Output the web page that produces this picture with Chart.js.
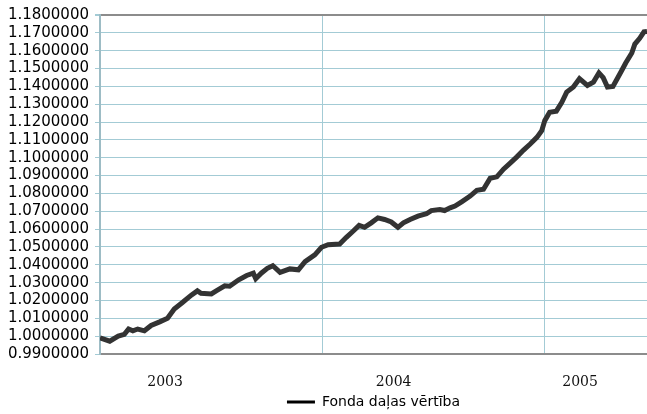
<!DOCTYPE html>
<html>
<head>
<meta charset="utf-8">
<script src="https://cdn.jsdelivr.net/npm/chart.js@4/dist/chart.umd.min.js"></script>
<style>
  html, body { margin: 0; padding: 0; background: #ffffff; }
  #chart { display: block; }
</style>
</head>
<body>
<canvas id="chart" width="647" height="414"></canvas>
<script>
// Fund unit value
const dates = [
    '2003-01-01', '2003-01-17', '2003-01-31', '2003-02-10', '2003-02-17', '2003-02-24',
    '2003-03-04', '2003-03-15', '2003-03-26', '2003-04-09', '2003-04-22', '2003-05-03',
    '2003-05-17', '2003-05-31', '2003-06-10', '2003-06-16', '2003-07-03', '2003-07-11',
    '2003-07-25', '2003-08-02', '2003-08-17', '2003-08-30', '2003-09-10', '2003-09-14',
    '2003-09-23', '2003-10-03', '2003-10-12', '2003-10-24', '2003-11-09', '2003-11-23',
    '2003-12-04', '2003-12-20', '2003-12-31',
    '2004-01-11', '2004-01-30', '2004-02-10', '2004-02-21', '2004-03-02', '2004-03-11',
    '2004-03-22', '2004-04-02', '2004-04-13', '2004-04-24', '2004-05-05', '2004-05-14',
    '2004-05-25', '2004-06-07', '2004-06-21', '2004-06-29', '2004-07-13', '2004-07-21',
    '2004-07-30', '2004-08-07', '2004-08-18', '2004-09-01', '2004-09-12', '2004-09-23',
    '2004-10-04', '2004-10-15', '2004-10-26', '2004-11-06', '2004-11-17', '2004-11-28',
    '2004-12-09', '2004-12-20', '2004-12-28',
    '2005-01-02', '2005-01-10', '2005-01-21', '2005-01-30', '2005-02-07', '2005-02-18',
    '2005-02-28', '2005-03-13', '2005-03-23', '2005-04-01', '2005-04-08', '2005-04-15',
    '2005-04-24', '2005-05-01', '2005-05-08', '2005-05-15', '2005-05-25', '2005-05-30',
    '2005-06-07', '2005-06-14', '2005-06-19'
];
const unitValues = [
    0.9990, 0.9972, 1.0000, 1.0010, 1.0040, 1.0030,
    1.0040, 1.0030, 1.0060, 1.0080, 1.0100, 1.0152,
    1.0190, 1.0230, 1.0254, 1.0240, 1.0237, 1.0254,
    1.0282, 1.0280, 1.0316, 1.0340, 1.0353, 1.0322,
    1.0353, 1.0380, 1.0395, 1.0358, 1.0377, 1.0372,
    1.0418, 1.0456, 1.0498,
    1.0513, 1.0516, 1.0554, 1.0588, 1.0621, 1.0610,
    1.0635, 1.0663, 1.0654, 1.0640, 1.0610, 1.0635,
    1.0654, 1.0673, 1.0686, 1.0704, 1.0710, 1.0704,
    1.0719, 1.0729, 1.0753, 1.0785, 1.0817, 1.0823,
    1.0885, 1.0893, 1.0936, 1.0970, 1.1005, 1.1043,
    1.1077, 1.1114, 1.1152,
    1.1208, 1.1255, 1.1261, 1.1311, 1.1368, 1.1396,
    1.1443, 1.1405, 1.1424, 1.1475, 1.1449, 1.1396,
    1.1400, 1.1443, 1.1486, 1.1531, 1.1587, 1.1637,
    1.1669, 1.1706, 1.1708
];
const seriesLabel = 'Fonda daļas vērtība';

// Year boundaries (vertical grid) and the year captions under the axis
const yearBoundaries = [2004, 2005];
const yearLabels = ['2003', '2004', '2005'];
const yearLabelDates = ['2003-04-18', '2004-04-28', '2005-03-01'];

const yMin = 0.99;
const yMax = 1.18;
const yStep = 0.01;

// date string -> decimal year
function toYear(s) {
    const t = new Date(s + 'T00:00:00Z').getTime();
    const y = new Date(t).getUTCFullYear();
    const start = Date.UTC(y, 0, 1);
    const end = Date.UTC(y + 1, 0, 1);
    return y + (t - start) / (end - start);
}

const points = dates.map((d, i) => ({ x: toYear(d), y: unitValues[i] }));
const labelPositions = yearLabelDates.map(toYear);

const gridBlue = '#a3cbd5';
const frameGray = '#8c8c8c';

const ctx = document.getElementById('chart').getContext('2d');
new Chart(ctx, {
    type: 'line',
    data: {
        datasets: [{
            label: seriesLabel,
            data: points,
            borderColor: '#333333',
            backgroundColor: '#000000',
            borderWidth: 5,
            pointRadius: 0,
            tension: 0,
            fill: false,
            xAxisID: 'x',
            yAxisID: 'y'
        }]
    },
    options: {
        responsive: false,
        animation: false,
        devicePixelRatio: 1,
        layout: {
            padding: { top: 15, right: 0, left: 0, bottom: -5 }
        },
        scales: {
            x: {
                type: 'linear',
                position: 'bottom',
                min: points[0].x,
                max: points[points.length - 1].x,
                afterBuildTicks: (axis) => {
                    axis.ticks = yearBoundaries.map(v => ({ value: v }));
                },
                grid: {
                    color: gridBlue,
                    lineWidth: 1,
                    drawTicks: false
                },
                border: { color: frameGray, width: 2 },
                ticks: { display: false },
                afterFit: (axis) => { axis.height = 1; }
            },
            xl: {
                type: 'linear',
                position: 'bottom',
                min: points[0].x,
                max: points[points.length - 1].x,
                afterBuildTicks: (axis) => {
                    axis.ticks = labelPositions.map(v => ({ value: v }));
                },
                grid: { display: false, drawTicks: false },
                border: { display: false },
                ticks: {
                    autoSkip: false,
                    maxRotation: 0,
                    padding: 19,
                    color: '#111111',
                    font: { family: '"DejaVu Serif", "Liberation Serif", serif', size: 14 },
                    callback: (value, index) => yearLabels[index]
                },
                afterFit: (axis) => { axis.height = 38; }
            },
            y: {
                type: 'linear',
                min: yMin,
                max: yMax,
                afterBuildTicks: (axis) => {
                    const ticks = [];
                    for (let i = 0; i <= Math.round((yMax - yMin) / yStep); i++) {
                        ticks.push({ value: +(yMin + i * yStep).toFixed(2) });
                    }
                    axis.ticks = ticks;
                },
                afterFit: (axis) => { axis.width = 100; },
                grid: {
                    color: (c) => (c.tick && c.tick.value >= yMax - 1e-9) ? frameGray : gridBlue,
                    lineWidth: (c) => (c.tick && c.tick.value >= yMax - 1e-9) ? 2 : 1,
                    tickColor: gridBlue,
                    tickLength: 5
                },
                border: { color: '#9dbcc5', width: 2 },
                ticks: {
                    autoSkip: false,
                    padding: 6,
                    color: '#000000',
                    font: { family: '"DejaVu Sans", "Liberation Sans", sans-serif', size: 15 },
                    callback: (value) => Number(value).toFixed(7)
                }
            }
        },
        plugins: {
            legend: {
                display: true,
                position: 'bottom',
                fullSize: false,
                labels: {
                    boxWidth: 28,
                    boxHeight: 3,
                    padding: 2,
                    color: '#000000',
                    font: { family: '"DejaVu Sans", "Liberation Sans", sans-serif', size: 14 },
                    generateLabels: (chart) => [{
                        text: seriesLabel,
                        fillStyle: '#000000',
                        strokeStyle: '#000000',
                        lineWidth: 0,
                        hidden: false,
                        datasetIndex: 0
                    }]
                }
            },
            tooltip: { enabled: false }
        }
    }
});
</script>
</body>
</html>
